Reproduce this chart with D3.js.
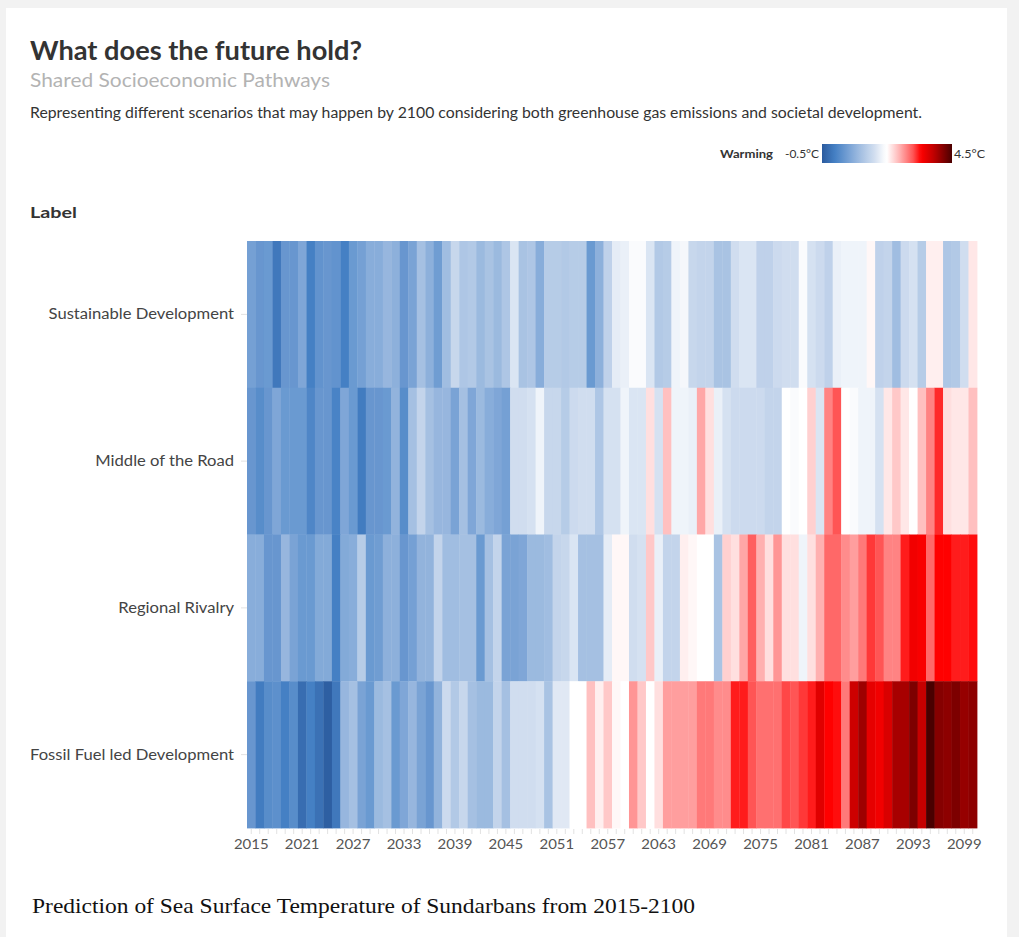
<!DOCTYPE html>
<html>
<head>
<meta charset="utf-8">
<script src="https://cdn.jsdelivr.net/npm/d3@7"></script>
<style>
  html, body { margin: 0; padding: 0; background: #f2f2f2; }
  svg { display: block; }
</style>
</head>
<body>
<svg id="chart" width="1019" height="937"></svg>
<script>
// ---------- DATA ----------
const years = [2015,2016,2017,2018,2019,2020,2021,2022,2023,2024,2025,2026,2027,2028,2029,2030,
  2031,2032,2033,2034,2035,2036,2037,2038,2039,2040,2041,2042,2043,2044,2045,2046,2047,2048,2049,2050,
  2051,2052,2053,2054,2055,2056,2057,2058,2059,2060,2061,2062,2063,2064,2065,2066,2067,2068,2069,2070,
  2071,2072,2073,2074,2075,2076,2077,2078,2079,2080,2081,2082,2083,2084,2085,2086,2087,2088,2089,2090,
  2091,2092,2093,2094,2095,2096,2097,2098,2099,2100];

const tickYears = [2015,2021,2027,2033,2039,2045,2051,2057,2063,2069,2075,2081,2087,2093,2099];

const scenarios = ["Sustainable Development", "Middle of the Road", "Regional Rivalry", "Fossil Fuel led Development"];

// warming (°C) per year
const sustainable = [
  0.5, 0.35, 0.4, -0.1, 0.35, 0.35, 0.6, 0.0, 0.3, 0.35,
  0.3, 0.0, 0.4, 0.5, 0.7, 0.7, 0.85, 0.75, 0.35, 0.55,
  1.0, 0.75, 0.45, 0.95, 1.4, 1.1, 1.15, 0.9, 1.05, 0.9,
  1.1, 1.6, 1.05, 1.1, 0.7, 1.2, 1.2, 1.15, 1.2, 1.2,
  0.4, 0.75, 1.3, 1.7, 1.75, 1.9, 1.9, 1.6, 1.15, 1.2,
  1.8, 1.85, 1.4, 1.35, 1.35, 1.05, 1.05, 1.5, 1.6, 1.6,
  1.3, 1.3, 1.45, 1.5, 1.5, 1.9, 1.55, 1.45, 1.3, 1.75,
  1.8, 1.8, 1.8, 2.05, 1.3, 1.35, 0.95, 1.45, 1.55, 1.2,
  2.1, 2.1, 1.1, 1.15, 1.5, 2.15];

const middle = [
  0.35, 0.2, 0.35, 0.6, 0.4, 0.4, 0.4, 0.1, 0.35, 0.35,
  0.05, 0.6, 0.4, -0.05, 0.35, 0.35, 0.4, 0.8, 0.2, 1.0,
  1.35, 1.0, 0.85, 0.85, 0.55, 1.0, 0.6, 0.9, 0.7, 0.6,
  0.5, 1.5, 1.5, 1.55, 1.8, 1.4, 1.4, 1.2, 1.45, 1.5,
  1.5, 1.1, 1.55, 1.55, 1.8, 1.6, 1.6, 2.2, 1.55, 2.4,
  1.8, 1.8, 1.75, 2.55, 2.2, 1.75, 1.55, 1.45, 1.45, 1.45,
  1.45, 1.35, 1.35, 2.0, 1.9, 1.95, 2.3, 1.6, 2.75, 3.0,
  1.95, 1.9, 1.8, 1.8, 1.55, 2.15, 2.35, 2.15, 2.0, 2.4,
  2.75, 3.15, 2.2, 2.15, 2.15, 2.4];

const regional = [
  0.7, 0.7, 0.35, 0.35, 0.85, 0.55, 0.4, 0.4, 0.65, 0.65,
  0.0, 0.65, 0.7, 1.2, 0.4, 0.45, 0.75, 0.75, 0.35, 0.5,
  0.8, 0.8, 1.35, 0.95, 0.95, 1.0, 1.0, 0.4, 1.0, 1.35,
  0.55, 0.55, 0.6, 0.9, 0.9, 0.95, 1.35, 1.4, 1.6, 1.0,
  1.0, 1.0, 1.7, 2.05, 2.05, 1.5, 1.55, 2.35, 1.75, 1.35,
  1.35, 2.1, 2.05, 2.0, 2.0, 1.05, 2.3, 2.2, 2.55, 2.95,
  2.5, 2.2, 2.65, 2.2, 2.2, 1.8, 2.2, 2.5, 2.9, 2.9,
  2.7, 2.6, 2.8, 3.1, 3.0, 2.75, 2.75, 3.2, 3.4, 3.35,
  2.9, 3.3, 3.3, 3.2, 3.2, 3.25];

const fossil = [
  0.35, -0.05, 0.2, 0.25, 0.0, 0.2, -0.25, 0.0, -0.2, -0.45,
  -0.1, 0.85, 1.0, 0.55, 0.4, 0.9, 1.0, 0.4, 0.6, 0.85,
  0.55, 0.35, 0.8, 1.45, 1.15, 1.4, 1.0, 0.9, 0.9, 1.35,
  1.0, 1.5, 1.5, 1.5, 1.55, 1.05, 1.65, 1.65, 2.0, 2.0,
  2.4, 2.1, 2.35, 2.05, 2.0, 2.65, 2.35, 2.0, 2.2, 2.6,
  2.6, 2.6, 2.6, 2.8, 2.8, 2.7, 2.7, 3.2, 3.2, 3.0,
  2.85, 2.85, 2.85, 3.05, 3.0, 3.1, 3.2, 3.55, 3.3, 3.25,
  2.8, 3.7, 4.0, 3.5, 3.4, 3.6, 3.95, 3.95, 4.2, 3.75,
  4.5, 4.15, 4.1, 4.2, 4.05, 4.1];

const seriesValues = [sustainable, middle, regional, fossil];
const legendMin = -0.5, legendMax = 4.5;

// ---------- CHART ----------
const svg = d3.select("#chart");
const W = 1019, H = 937;

svg.append("rect").attr("x", 6).attr("y", 8).attr("width", 1001).attr("height", H - 8).attr("fill", "#ffffff");

const sans = "'Lato', 'Noto Sans', sans-serif";

const color = d3.scaleLinear()
  .domain([-0.5, 0.0, 0.5, 1.0, 1.5, 1.95, 2.0, 2.5, 3.0, 3.3, 3.8, 4.5])
  .range(["#2a5a9e", "#4580c4", "#75a0d4", "#a5c0e2", "#d0ddef", "#ffffff",
          "#ffffff", "#ffb0b0", "#ff5555", "#ff0000", "#c00000", "#4a0000"])
  .interpolate(d3.interpolateRgb)
  .clamp(true);

function fit(sel, len) {
  sel.attr("textLength", len).attr("lengthAdjust", "spacingAndGlyphs");
  return sel;
}
function stretch(sel, factor) {
  sel.each(function() {
    const l = this.getComputedTextLength();
    if (l > 0) d3.select(this).attr("textLength", l * factor).attr("lengthAdjust", "spacingAndGlyphs");
  });
}

// header texts
fit(svg.append("text").attr("x", 30).attr("y", 60)
  .attr("font-family", sans).attr("font-weight", 700).attr("font-size", 26)
  .attr("fill", "#333").text("What does the future hold?"), 332);
fit(svg.append("text").attr("x", 30).attr("y", 87)
  .attr("font-family", sans).attr("font-size", 19)
  .attr("fill", "#b3b3b3").text("Shared Socioeconomic Pathways"), 300);
fit(svg.append("text").attr("x", 30).attr("y", 118)
  .attr("font-family", sans).attr("font-size", 14.5)
  .attr("fill", "#333").text("Representing different scenarios that may happen by 2100 considering both greenhouse gas emissions and societal development."), 892);

// legend
const legX0 = 822, legX1 = 952, legY = 144, legH = 19;
const defs = svg.append("defs");
const grad = defs.append("linearGradient").attr("id", "leg").attr("x1", "0%").attr("x2", "100%");
const legScale = d3.scaleLinear().domain([legendMin, legendMax]).range([0, 100]);
d3.range(0, 41).forEach(i => {
  const v = legendMin + (legendMax - legendMin) * i / 40;
  grad.append("stop").attr("offset", legScale(v) + "%").attr("stop-color", color(v));
});
svg.append("rect").attr("x", legX0).attr("y", legY).attr("width", legX1 - legX0).attr("height", legH)
  .attr("fill", "url(#leg)");
fit(svg.append("text").attr("x", 720).attr("y", 158)
  .attr("font-family", sans).attr("font-weight", 700).attr("font-size", 11).attr("fill", "#333").text("Warming"), 53);
fit(svg.append("text").attr("x", 785).attr("y", 158)
  .attr("font-family", sans).attr("font-size", 11).attr("fill", "#333").text(legendMin + "°C"), 34);
fit(svg.append("text").attr("x", 954).attr("y", 158)
  .attr("font-family", sans).attr("font-size", 11).attr("fill", "#333").text(legendMax + "°C"), 31);

fit(svg.append("text").attr("x", 30).attr("y", 218)
  .attr("font-family", sans).attr("font-weight", 700).attr("font-size", 16)
  .attr("fill", "#333").text("Label"), 47);

// scales
const x = d3.scaleBand().domain(years).range([247, 977]).padding(0);
const y = d3.scaleBand().domain(scenarios).range([241, 828]).padding(0);

defs.append("filter").attr("id", "soft").attr("x", "-1%").attr("y", "-1%").attr("width", "102%").attr("height", "102%")
  .append("feGaussianBlur").attr("stdDeviation", 0.6);

const cells = [];
scenarios.forEach((s, si) => {
  years.forEach((yr, yi) => cells.push({ scenario: s, year: yr, value: seriesValues[si][yi] }));
});
svg.append("g").attr("filter", "url(#soft)").selectAll("rect").data(cells).join("rect")
  .attr("x", d => x(d.year))
  .attr("y", d => y(d.scenario))
  .attr("width", x.bandwidth() + 0.4)
  .attr("height", y.bandwidth() + 0.4)
  .attr("fill", d => color(d.value));

// x axis
const xAxis = svg.append("g").attr("transform", "translate(0,829)")
  .call(d3.axisBottom(x).tickValues(years).tickSize(5).tickPadding(6)
    .tickFormat(d => tickYears.includes(d) ? d : ""));
xAxis.select(".domain").remove();
xAxis.selectAll(".tick line").attr("stroke", "#e2e2e2");
xAxis.selectAll(".tick text").attr("font-family", sans).attr("font-size", 13).attr("fill", "#555");
stretch(xAxis.selectAll(".tick text"), 1.15);

// y axis
const yAxis = svg.append("g").attr("transform", "translate(247,0)")
  .call(d3.axisLeft(y).tickSize(6).tickPadding(7));
yAxis.select(".domain").remove();
yAxis.selectAll(".tick line").attr("stroke", "#e2e2e2");
yAxis.selectAll(".tick text").attr("font-family", sans).attr("font-size", 15.5).attr("fill", "#444");
stretch(yAxis.selectAll(".tick text"), 1.07);

// caption
fit(svg.append("text").attr("x", 32).attr("y", 913)
  .attr("font-family", "'Liberation Serif', 'DejaVu Serif', serif").attr("font-size", 22)
  .attr("fill", "#111").text("Prediction of Sea Surface Temperature of Sundarbans from 2015-2100"), 663);
</script>
</body>
</html>
